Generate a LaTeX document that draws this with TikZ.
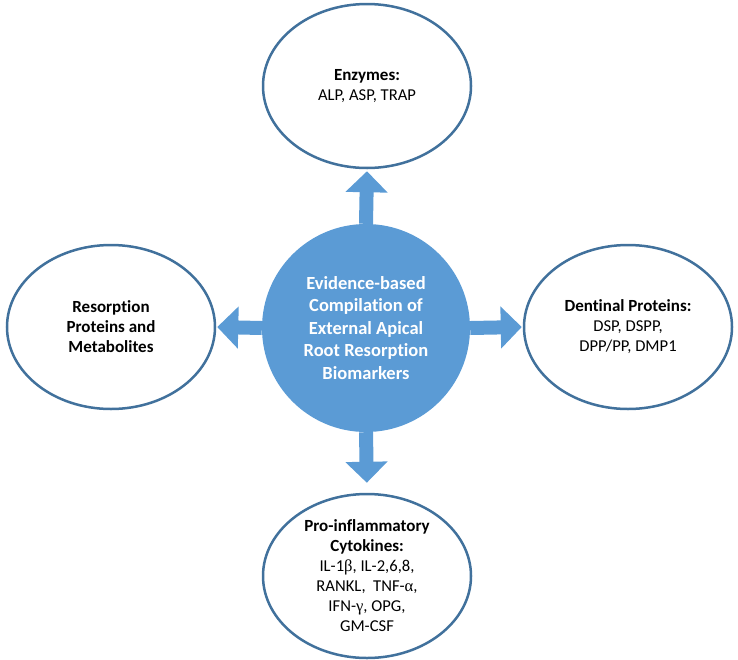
\documentclass[tikz,border=0pt]{standalone}
\usepackage{fontspec}
\setmainfont[Ligatures=NoCommon]{Carlito}
\newfontfamily\grk{Liberation Serif}
\usetikzlibrary{arrows.meta,shapes.geometric}
\definecolor{fillblue}{HTML}{5B9BD5}
\definecolor{edgeblue}{HTML}{41719C}
\newcommand{\hd}[1]{{\bfseries\fontsize{17}{20}\selectfont #1}}
\begin{document}
\begin{tikzpicture}[x=1pt,y=-1pt,
 oval/.style={ellipse, draw=edgeblue, line width=2.5pt, fill=white, minimum width=208pt, minimum height=164pt, inner sep=0pt, align=center, font=\fontsize{16.6}{20}\selectfont},
 hub/.style={circle, fill=fillblue, minimum size=208pt, inner sep=0pt, align=center, text=white, font=\bfseries\fontsize{18.5}{22.5}\selectfont},
 link/.style={draw=fillblue, line width=14pt, -{Triangle[width=41pt,length=21pt]}}]
\useasboundingbox (0,0) rectangle (738,659);
\node[hub] (c) at (366,328) {Evidence-based\\Compilation of\\External Apical\\Root Resorption\\Biomarkers};
\node[oval] (t) at (367,86) {\hd{Enzymes:}\\ALP, ASP, TRAP};
\node[oval] (l) at (111,327) {\hd{Resorption}\\\hd{Proteins and}\\\hd{Metabolites}};
\node[oval] (r) at (628,327) {\hd{Dentinal Proteins:}\\DSP, DSPP,\\DPP/PP, DMP1};
\node[oval] (b) at (367,576) {\hd{Pro-inflammatory}\\\hd{Cytokines:}\\IL-1{\grk β}, IL-2,6,8,\\RANKL,\ \ TNF-{\grk α},\\IFN-{\grk γ}, OPG,\\GM-CSF};
\draw[link, shorten >=2pt] (c.north) -- (t.south);
\draw[link, shorten >=1pt] (c.west) -- (l.east);
\draw[link, shorten >=1pt] (c.east) -- (r.west);
\draw[link, shorten >=10pt] (c.south) -- (b.north);
\end{tikzpicture}
\end{document}
